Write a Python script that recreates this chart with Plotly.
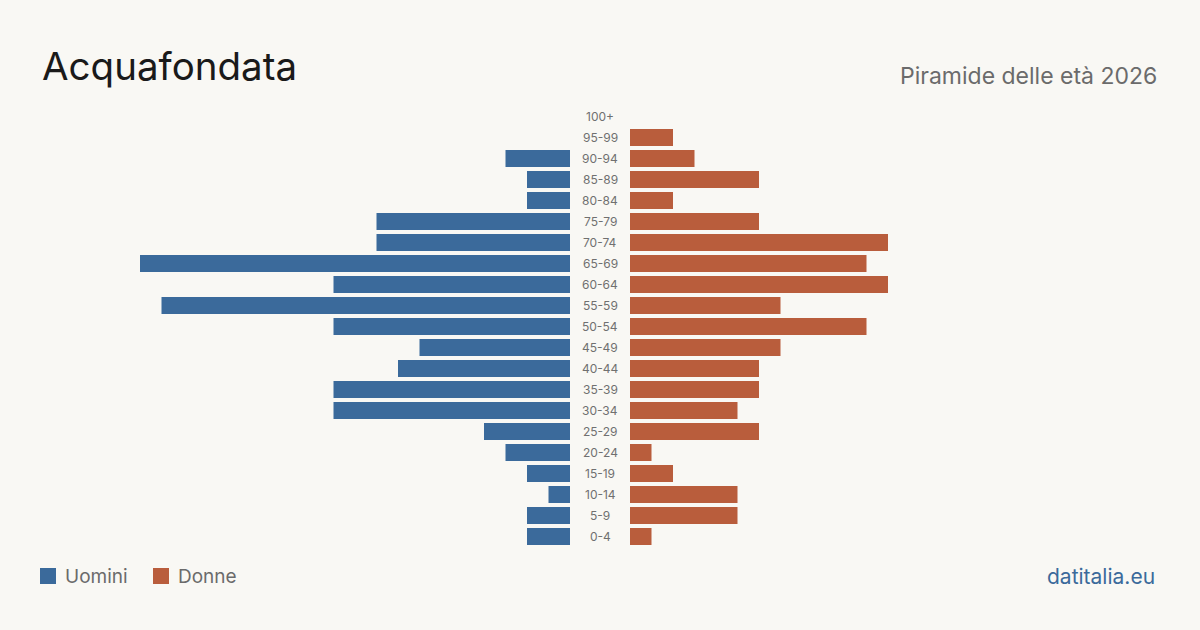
import plotly.graph_objects as go

ages = ["0-4", "5-9", "10-14", "15-19", "20-24", "25-29", "30-34", "35-39", "40-44", "45-49",
        "50-54", "55-59", "60-64", "65-69", "70-74", "75-79", "80-84", "85-89", "90-94", "95-99", "100+"]
men = [2, 2, 1, 2, 3, 4, 11, 11, 8, 7, 11, 19, 11, 20, 9, 9, 2, 2, 3, 0, 0]
women = [1, 5, 5, 2, 1, 6, 5, 6, 6, 7, 11, 7, 12, 11, 12, 6, 2, 6, 3, 2, 0]

BLUE = "#3b6a9b"
ORANGE = "#b95d3c"
BG = "#f9f8f4"
FONT = "Inter"

R = 530 / 21.5
fig = go.Figure()
fig.add_trace(go.Bar(y=ages, x=men, orientation="h", marker=dict(color=BLUE, line=dict(width=0)),
                     xaxis="x", yaxis="y", name="Uomini", showlegend=False, hoverinfo="skip"))
fig.add_trace(go.Bar(y=ages, x=women, orientation="h", marker=dict(color=ORANGE, line=dict(width=0)),
                     xaxis="x2", yaxis="y", name="Donne", showlegend=False, hoverinfo="skip"))

W, H = 1200, 630
ydom = [1 - 547 / H, 1 - 106 / H]
fig.update_layout(
    width=W, height=H, margin=dict(l=0, r=0, t=0, b=0),
    paper_bgcolor=BG, plot_bgcolor=BG, bargap=0.19,
    font=dict(family=FONT),
    xaxis=dict(domain=[40 / W, 570 / W], range=[R, 0], visible=False, fixedrange=True,
               showgrid=False, zeroline=False),
    xaxis2=dict(domain=[630 / W, 1160 / W], range=[0, R], visible=False, fixedrange=True,
                showgrid=False, zeroline=False),
    yaxis=dict(domain=ydom, categoryorder="array", categoryarray=ages, visible=False, anchor="x",
               showgrid=False, zeroline=False),
)

for a in ages:
    fig.add_annotation(x=600 / W, xref="paper", y=a, yref="y", text=a, showarrow=False,
                       font=dict(size=12, color="#707070", family=FONT), xanchor="center", yanchor="middle")

fig.add_annotation(x=40 / W, y=1 - 66 / H, xref="paper", yref="paper", text="Acquafondata",
                   showarrow=False, xanchor="left", yanchor="middle",
                   font=dict(size=38.5, color="#1a1a1a", family=FONT))
fig.add_annotation(x=1159 / W, y=1 - 76 / H, xref="paper", yref="paper", text="Piramide delle età 2026",
                   showarrow=False, xanchor="right", yanchor="middle",
                   font=dict(size=23, color="#6b6b6b", family=FONT))
fig.add_annotation(x=1157 / W, y=1 - 576 / H, xref="paper", yref="paper", text="datitalia.eu",
                   showarrow=False, xanchor="right", yanchor="middle",
                   font=dict(size=21, color=BLUE, family=FONT))

# legend
for x0, col, label in [(40, BLUE, "Uomini"), (153, ORANGE, "Donne")]:
    fig.add_shape(type="rect", xref="paper", yref="paper", x0=x0 / W, x1=(x0 + 16) / W,
                  y0=1 - 584 / H, y1=1 - 568 / H, fillcolor=col, line_width=0)
    fig.add_annotation(x=(x0 + 23) / W, y=1 - 576 / H, xref="paper", yref="paper", text=label,
                       showarrow=False, xanchor="left", yanchor="middle",
                       font=dict(size=19, color="#6b6b6b", family=FONT))

fig.write_html("out.html", config={"displayModeBar": False})
